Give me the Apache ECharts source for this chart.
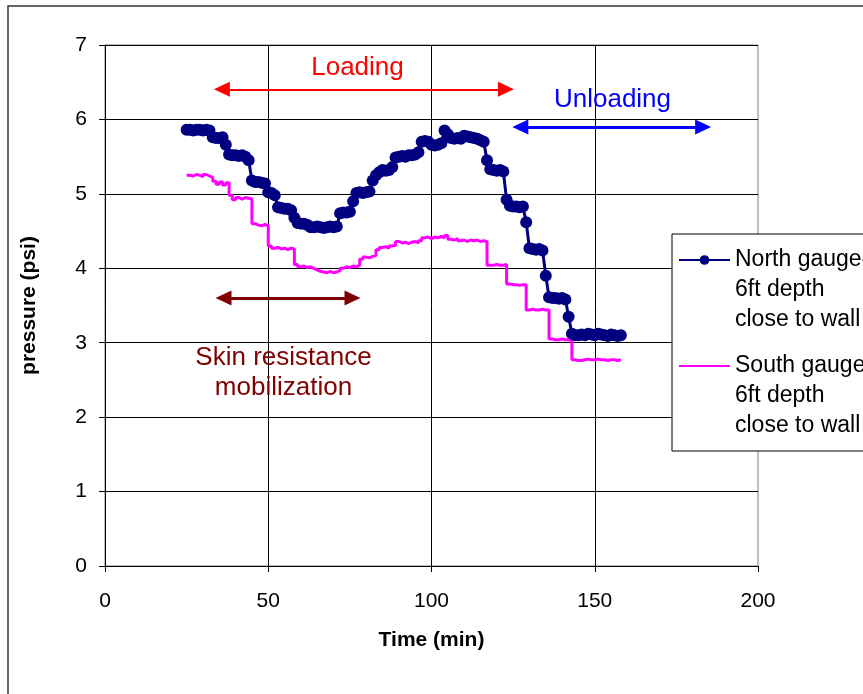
<!DOCTYPE html>
<html>
<head>
<meta charset="utf-8">
<script src="https://cdn.jsdelivr.net/npm/echarts@6/dist/echarts.min.js"></script>
<style>
html,body{margin:0;padding:0;background:#fff;}
#chart{width:863px;height:694px;}
</style>
</head>
<body>
<div id="chart"></div>
<script>
// Time axis: one reading per minute, starting at this minute
const startMinute = 25;

// North gauge - 6ft depth close to wall (psi), minutes 25..158
const northPressure = [
  5.86,5.86,5.85,5.86,5.86,5.85,5.86,5.85, // 25-32
  5.76,5.75,5.75,5.76,5.66,                // 33-37
  5.53,5.52,5.52,5.51,5.52,5.50,5.45,      // 38-44
  5.18,5.16,5.16,5.15,5.14,                // 45-49
  5.02,5.01,4.98,                          // 50-52
  4.82,4.81,4.80,4.80,4.78,4.68,           // 53-58
  4.61,4.60,4.60,4.58,                     // 59-62
  4.55,4.55,4.56,4.55,4.54,4.55,4.56,4.55,4.56, // 63-71
  4.74,4.75,4.75,4.76,4.90,                // 72-76
  5.01,5.02,5.01,5.02,5.03,                // 77-81
  5.18,5.25,5.29,                          // 82-84
  5.32,5.31,5.32,5.36,                     // 85-88
  5.49,5.50,5.51,5.50,                     // 89-92
  5.52,5.52,5.53,5.56,                     // 93-96
  5.70,5.71,5.70,                          // 97-99
  5.66,5.65,5.66,5.68,                     // 100-103
  5.85,5.80,5.75,5.74,5.75,5.74,           // 104-109
  5.78,5.77,5.76,5.75,5.74,5.72,5.70,      // 110-116
  5.45,5.33,5.32,5.31,5.32,5.30,           // 117-122
  4.92,4.84,4.83,4.83,4.82,4.83,           // 123-128
  4.62,4.27,4.26,4.25,4.26,4.24,           // 129-134
  3.90,3.61,3.60,3.60,3.59,3.60,3.58,      // 135-141
  3.35,3.12,3.10,3.10,3.11,3.10,3.12,3.11, // 142-149
  3.10,3.12,3.11,3.10,3.09,3.11,3.10,3.09,3.10 // 150-158
];

// South gauge - 6ft depth close to wall (psi), minutes 25..158
const southPressure = [
  5.25,5.24,5.26,5.25,5.23,5.26,5.24,5.22, // 25-32
  5.17,5.13,5.16,5.12,5.15,                // 33-37
  4.98,4.92,4.95,4.93,4.95,4.94,4.93,      // 38-44
  4.60,4.58,4.57,4.59,4.57,                // 45-49
  4.30,4.27,4.28,4.26,4.27,4.25,4.27,4.26, // 50-57
  4.05,4.02,4.03,4.01,4.02,4.00,3.98,      // 58-64
  3.96,3.95,3.94,3.96,3.94,3.95,3.97,      // 65-71
  4.00,4.02,4.01,4.03,4.02,4.04,           // 72-77
  4.12,4.15,4.14,4.16,4.17,                // 78-82
  4.25,4.28,4.29,4.27,4.30,4.31,           // 83-88
  4.36,4.34,4.35,4.33,4.35,4.36,4.34,4.37, // 89-96
  4.41,4.42,4.40,4.42,4.41,4.43,4.41,4.44, // 97-104
  4.39,4.38,4.40,4.37,4.38,4.36,4.38,4.37,4.38,4.36,4.37,4.36, // 105-116
  4.04,4.04,4.05,4.04,4.04,4.05,           // 117-122
  3.79,3.78,3.78,3.77,3.78,3.78,           // 123-128
  3.44,3.45,3.44,3.44,3.45,3.44,3.44,      // 129-135
  3.05,3.04,3.04,3.05,3.04,3.04,3.03,      // 136-142
  2.77,2.76,2.76,2.77,2.78,2.77,2.77,2.78, // 143-150
  2.77,2.77,2.76,2.77,2.77,2.76,2.77,2.77  // 151-158
];

// Axis ticks
const xTicks = [0, 50, 100, 150, 200];
const yTicks = [0, 1, 2, 3, 4, 5, 6, 7];

// Series names (legend)
const seriesNames = [
  'North gauge-\n6ft depth\nclose to wall',
  'South gauge-\n6ft depth\nclose to wall'
];

// Annotation arrows: [x1, x2, y] in data units (centres of the arrow heads)
const loadingArrow = [35.8, 122.8, 6.405];
const unloadingArrow = [127.2, 183.2, 5.898];
const skinArrow = [36.3, 75.8, 3.60];

const northData = northPressure.map((v, i) => [startMinute + i, v]);
const southData = southPressure.map((v, i) => [startMinute + i, v]);

const FONT = '"Liberation Sans", Arial, sans-serif';

const chart = echarts.init(document.getElementById('chart'), null, {renderer: 'canvas'});

function arrowLine(arr, color, width) {
  return [
    {coord: [arr[0], arr[2]], lineStyle: {color: color, width: width, type: 'solid'}, symbol: 'triangle'},
    {coord: [arr[1], arr[2]], symbol: 'triangle'}
  ];
}

const option = {
  animation: false,
  backgroundColor: '#ffffff',
  textStyle: {fontFamily: FONT},
  grid: {
    left: 105, right: 105, top: 45, bottom: 128,
    show: true, borderColor: '#808080', borderWidth: 1, backgroundColor: '#ffffff'
  },
  xAxis: {
    type: 'value',
    min: xTicks[0], max: xTicks[xTicks.length - 1], interval: 50,
    name: 'Time (min)',
    nameLocation: 'middle',
    nameGap: 64,
    nameTextStyle: {fontFamily: FONT, fontWeight: 'bold', fontSize: 21, color: '#000'},
    axisLine: {show: true, lineStyle: {color: '#000', width: 1}},
    axisTick: {show: true, inside: false, length: 6, lineStyle: {color: '#000'}},
    axisLabel: {fontFamily: FONT, fontSize: 21, color: '#000', margin: 25},
    splitLine: {show: true, showMaxLine: false, lineStyle: {color: '#000', width: 1}}
  },
  yAxis: {
    type: 'value',
    min: yTicks[0], max: yTicks[yTicks.length - 1], interval: 1,
    name: 'pressure (psi)',
    nameLocation: 'middle',
    nameGap: 65,
    nameRotate: 90,
    nameTextStyle: {fontFamily: FONT, fontWeight: 'bold', fontSize: 21, color: '#000'},
    axisLine: {show: true, lineStyle: {color: '#000', width: 1}},
    axisTick: {show: true, inside: false, length: 6, lineStyle: {color: '#000'}},
    axisLabel: {fontFamily: FONT, fontSize: 21, color: '#000', margin: 18},
    splitLine: {show: true, lineStyle: {color: '#000', width: 1}}
  },
  legend: {
    show: true,
    orient: 'vertical',
    left: 672,
    top: 234,
    padding: [-49, 30, 10, 6],
    itemGap: -44,
    itemWidth: 51,
    itemHeight: 12,
    selectedMode: false,
    backgroundColor: '#ffffff',
    borderColor: '#000000',
    borderWidth: 1,
    borderRadius: 0,
    formatter: function (name) { return '\n\n' + name; },
    textStyle: {fontFamily: FONT, fontSize: 23, lineHeight: 30, color: '#000'},
    data: [
      {name: seriesNames[0]},
      {name: seriesNames[1], itemStyle: {opacity: 0}}
    ]
  },
  series: [
    {
      name: seriesNames[0],
      type: 'line',
      data: northData,
      symbol: 'circle',
      symbolSize: 12,
      showSymbol: true,
      lineStyle: {color: '#000080', width: 3},
      itemStyle: {color: '#000080'},
      z: 3,
      markLine: {
        silent: true,
        symbolSize: [15, 16],
        label: {show: false},
        emphasis: {disabled: true},
        data: [
          arrowLine(loadingArrow, '#ff0000', 2),
          arrowLine(unloadingArrow, '#0000ff', 3),
          arrowLine(skinArrow, '#800000', 3)
        ]
      }
    },
    {
      name: seriesNames[1],
      type: 'line',
      data: southData,
      step: 'end',
      symbol: 'none',
      showSymbol: false,
      lineStyle: {color: '#ff00ff', width: 3},
      itemStyle: {color: '#ff00ff'},
      z: 2
    }
  ],
  graphic: [
    {
      type: 'rect', z: -10, silent: true,
      shape: {x: 8, y: 6, width: 900, height: 750},
      style: {fill: 'none', stroke: '#333333', lineWidth: 1.5}
    },
    {
      type: 'text', x: 357.5, y: 68, z: 100, silent: true,
      style: {text: 'Loading', fill: '#ff0000', font: '26px ' + FONT, align: 'center', verticalAlign: 'middle'}
    },
    {
      type: 'text', x: 612.5, y: 100, z: 100, silent: true,
      style: {text: 'Unloading', fill: '#0000ff', font: '26px ' + FONT, align: 'center', verticalAlign: 'middle'}
    },
    {
      type: 'text', x: 283.5, y: 373, z: 100, silent: true,
      style: {text: 'Skin resistance\nmobilization', fill: '#800000', font: '26px ' + FONT, align: 'center', verticalAlign: 'middle', lineHeight: 30}
    }
  ]
};

chart.setOption(option);
</script>
</body>
</html>
